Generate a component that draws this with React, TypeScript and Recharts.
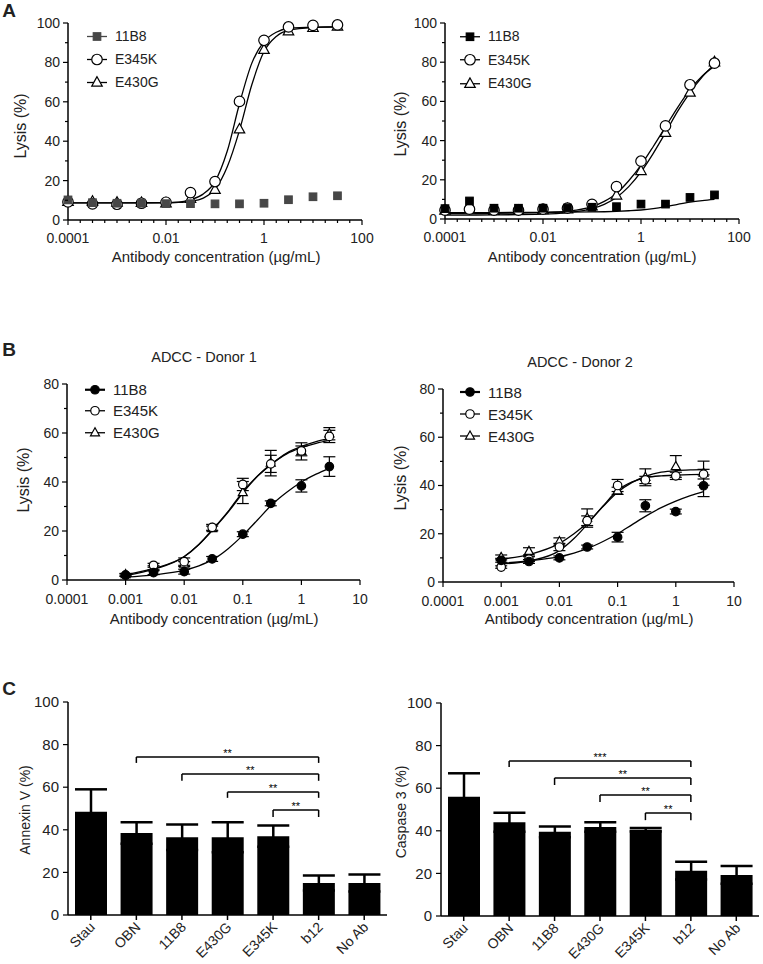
import React from "react";
import {
  ComposedChart,
  Line,
  Scatter,
  XAxis,
  YAxis,
  ErrorBar,
  Legend,
  BarChart,
  Bar,
  ReferenceLine,
} from "recharts";

const FONT = '"Liberation Sans", Arial, Helvetica, sans-serif';
const INK = "#222";

// ---- A: CDC, half-log dilution series (µg/mL)
const concA = [0.0001, 0.000316, 0.001, 0.00316, 0.01, 0.0316, 0.1, 0.316, 1, 3.16, 10, 31.6];
const cdcL_11B8 = [10.2, 8.8, 8.5, 8.5, 8.3, 8.3, 8.2, 8.2, 8.5, 10.3, 11.8, 12.3];
const cdcL_E345K = [9.2, 8.2, 8.0, 8.5, 9.0, 13.9, 19.5, 60.2, 91.2, 98.0, 98.8, 99.0];
const cdcL_E430G = [9.2, 9.3, 8.8, 8.7, 8.5, 10.7, 15.3, 46.0, 86.4, 95.8, 97.5, 98.2];
const cdcR_11B8 = [5.3, 9.2, 5.5, 5.5, 5.5, 5.6, 6.0, 6.3, 7.6, 7.6, 11.0, 12.3];
const cdcR_E345K = [4.5, 5.0, 4.5, 4.5, 5.0, 5.5, 7.5, 16.5, 29.5, 47.5, 68.5, 79.5];
const cdcR_E430G = [4.3, 4.8, 4.2, 4.2, 4.5, 5.0, 6.5, 12.0, 24.5, 44.0, 64.5, 80.0];

// fitted curves
const fitXL = [0.0001, 0.001, 0.01, 0.0178, 0.0316, 0.0562, 0.1, 0.178, 0.316, 0.562, 1, 1.78, 3.16, 10, 31.6];
const fitL_E345K = [8.7, 8.7, 8.8, 9.0, 10.3, 13.0, 19.5, 35.0, 59.0, 79.5, 90.5, 95.3, 97.2, 97.9, 98.0];
const fitL_E430G = [8.7, 8.7, 8.7, 8.9, 9.5, 11.0, 15.5, 27.0, 45.5, 68.5, 85.5, 93.2, 96.3, 97.7, 98.0];
const fitXR = [0.0001, 0.001, 0.01, 0.0316, 0.1, 0.178, 0.316, 0.562, 1, 1.78, 3.16, 5.62, 10, 17.8, 31.6];
const fitR_11B8 = [3.3, 3.3, 3.4, 3.5, 3.6, 3.7, 3.9, 4.2, 4.6, 5.3, 6.3, 7.5, 8.6, 9.4, 10.0];
const fitR_E345K = [2.8, 2.9, 3.3, 4.0, 6.3, 9.0, 13.0, 19.5, 27.5, 37.0, 47.0, 57.0, 66.0, 73.0, 78.0];
const fitR_E430G = [2.0, 2.1, 2.5, 3.3, 5.3, 7.5, 11.0, 16.5, 24.0, 33.5, 44.0, 55.0, 64.5, 72.5, 79.0];

// ---- B: ADCC
const concB = [0.001, 0.003, 0.01, 0.03, 0.1, 0.3, 1, 3];
const d1_11B8 = [2.0, 3.0, 3.4, 8.6, 18.7, 31.3, 38.4, 46.3];
const d1_11B8_sd = [0.5, 0.8, 1.0, 1.0, 1.0, 1.0, 2.5, 4.0];
const d1_E345K = [2.0, 6.0, 7.5, 21.5, 39.0, 47.4, 52.7, 58.6];
const d1_E345K_sd = [0.5, 0.8, 1.5, 1.2, 2.5, 3.5, 2.0, 2.5];
const d1_E430G = [2.2, 5.0, 6.5, 21.0, 35.7, 47.7, 52.5, 59.7];
const d1_E430G_sd = [0.5, 0.8, 1.0, 1.0, 4.5, 5.2, 3.5, 2.5];
const d2_11B8 = [9.0, 8.5, 10.0, 14.5, 18.6, 31.6, 29.2, 39.9];
const d2_11B8_sd = [0.8, 0.8, 0.8, 0.8, 2.0, 2.5, 1.0, 4.5];
const d2_E345K = [6.2, 9.5, 14.5, 25.4, 40.0, 42.3, 44.0, 44.7];
const d2_E345K_sd = [0.5, 1.0, 1.5, 2.0, 2.5, 1.5, 1.5, 2.0];
const d2_E430G = [10.2, 12.7, 16.8, 26.5, 37.8, 43.4, 47.9, 45.1];
const d2_E430G_sd = [1.0, 1.5, 1.5, 3.8, 1.5, 3.5, 4.5, 5.0];

const fitXB = [0.001, 0.00316, 0.01, 0.0178, 0.0316, 0.0562, 0.1, 0.178, 0.316, 0.562, 1, 1.78, 3];
const fit1_11B8 = [1.2, 2.1, 4.0, 5.8, 8.5, 12.8, 18.2, 24.5, 30.8, 35.8, 40.0, 43.2, 45.6];
const fit1_E345K = [1.8, 4.5, 9.5, 14.5, 21.0, 28.0, 36.0, 42.5, 47.5, 51.5, 54.0, 55.8, 57.0];
const fit1_E430G = [2.2, 4.8, 9.6, 14.5, 20.8, 27.7, 35.5, 42.3, 47.5, 51.8, 54.5, 56.5, 57.8];
const fit2_11B8 = [7.8, 8.8, 10.5, 12.0, 14.0, 16.8, 20.0, 23.8, 27.5, 30.8, 33.5, 35.8, 37.5];
const fit2_E345K = [7.5, 8.8, 13.0, 18.0, 24.5, 31.5, 38.0, 41.5, 43.3, 44.0, 44.3, 44.5, 44.6];
const fit2_E430G = [9.5, 11.5, 16.0, 20.0, 25.0, 31.3, 37.2, 41.3, 44.0, 45.5, 46.2, 46.5, 46.6];

// ---- C: apoptosis
const catsC = ["Stau", "OBN", "11B8", "E430G", "E345K", "b12", "No Ab"];
const annexin = [48.5, 38.5, 36.5, 36.5, 37.0, 15.0, 15.0];
const annexinSd = [10.5, 5.0, 6.0, 7.0, 5.0, 3.5, 4.0];
const caspase = [56.0, 44.0, 39.5, 41.8, 40.5, 21.3, 19.3];
const caspaseSd = [11.0, 4.5, 2.5, 2.2, 0.8, 4.2, 4.2];

const annexinSig = [
  { from: "OBN", to: "b12", top: 74.2, foot: 71.4, stars: "**" },
  { from: "11B8", to: "b12", top: 66.2, foot: 63.0, stars: "**" },
  { from: "E430G", to: "b12", top: 57.7, foot: 55.0, stars: "**" },
  { from: "E345K", to: "b12", top: 49.3, foot: 46.0, stars: "**" },
];
const caspaseSig = [
  { from: "OBN", to: "b12", top: 72.8, foot: 70.0, stars: "***" },
  { from: "11B8", to: "b12", top: 64.8, foot: 61.5, stars: "**" },
  { from: "E430G", to: "b12", top: 56.8, foot: 53.5, stars: "**" },
  { from: "E345K", to: "b12", top: 48.4, foot: 45.0, stars: "**" },
];

const majorsA = [0.0001, 0.01, 1, 100];
const labelsA = ["0.0001", "0.01", "1", "100"];
const majorsB = [0.0001, 0.001, 0.01, 0.1, 1, 10];
const labelsB = ["0.0001", "0.001", "0.01", "0.1", "1", "10"];
const quarterTicksA = Array.from({ length: 25 }, (_, i) => Math.pow(10, -4 + i / 4));

const pts = (xs, ys, es?) => xs.map((x, i) => ({ x, y: ys[i], e: es ? es[i] : undefined }));

function Marker({ kind, cx, cy, size, fill, stroke }) {
  if (kind === "square")
    return <rect x={cx - size / 2} y={cy - size / 2} width={size} height={size} fill={fill} stroke={stroke} strokeWidth={1.2} />;
  if (kind === "circle")
    return <circle cx={cx} cy={cy} r={size / 2} fill={fill} stroke={stroke} strokeWidth={1.2} />;
  const h = size * 0.9;
  return (
    <polygon
      points={`${cx},${cy - h * 0.62} ${cx - size / 2},${cy + h * 0.38} ${cx + size / 2},${cy + h * 0.38}`}
      fill={fill}
      stroke={stroke}
      strokeWidth={1.2}
    />
  );
}

function LogTick(props) {
  const { x, y, payload, majors, labels, fs, dy } = props;
  const idx = majors.findIndex((m) => Math.abs(Math.log10(m) - Math.log10(payload.value)) < 1e-6);
  const major = idx >= 0;
  return (
    <g>
      <line x1={x} x2={x} y1={y} y2={y + (major ? 5 : 3)} stroke="#000" strokeWidth={1.2} />
      {major && (
        <text x={x} y={y + dy} textAnchor="middle" fontSize={fs} fontFamily={FONT} fill={INK}>
          {labels[idx]}
        </text>
      )}
    </g>
  );
}

function ValueTick(props) {
  const { x, y, payload, step, fs, gap } = props;
  const major = payload.value % step === 0;
  return (
    <g>
      <line x1={x - (major ? 5 : 3)} x2={x} y1={y} y2={y} stroke="#000" strokeWidth={1.2} />
      {major && (
        <text x={x - gap} y={y} dy="0.35em" textAnchor="end" fontSize={fs} fontFamily={FONT} fill={INK}>
          {payload.value}
        </text>
      )}
    </g>
  );
}

function CatTick(props) {
  const { x, y, payload } = props;
  const ax = x + 5;
  const ay = y + 13;
  return (
    <g>
      <line x1={x} x2={x} y1={y} y2={y + 5} stroke="#000" strokeWidth={1.5} />
      <text x={ax} y={ay} textAnchor="end" transform={`rotate(-45, ${ax}, ${ay})`} fontSize={14} fontFamily={FONT} fill={INK}>
        {payload.value}
      </text>
    </g>
  );
}

function SeriesLegend({ items, rowH, fs }) {
  return (
    <div style={{ fontFamily: FONT, fontSize: fs, color: INK, lineHeight: 1 }}>
      {items.map((s) => (
        <div key={s.name} style={{ display: "flex", alignItems: "center", height: rowH }}>
          <svg width={28} height={rowH} style={{ display: "block" }}>
            <line x1={0} x2={20} y1={rowH / 2} y2={rowH / 2} stroke={s.lineColor} strokeWidth={s.lineWidth} />
            <Marker kind={s.kind} cx={10} cy={rowH / 2} size={s.size} fill={s.fill} stroke={s.stroke} />
          </svg>
          <span>{s.name}</span>
        </div>
      ))}
    </div>
  );
}

function DosePanel({ pos, size, margin, xH, xTicks, majors, labels, yTicks, yMax, series, legend, fs, xdy }) {
  const drawOrder = [...series].reverse();
  return (
    <div style={{ position: "absolute", left: pos[0], top: pos[1] }}>
      <ComposedChart width={size[0]} height={size[1]} margin={margin}>
        <XAxis
          dataKey="x"
          type="number"
          scale="log"
          domain={[majors[0], majors[majors.length - 1]]}
          ticks={xTicks}
          interval={0}
          height={xH}
          tickSize={0}
          tickMargin={0}
          tickLine={false}
          axisLine={{ stroke: "#000", strokeWidth: 1.5 }}
          tick={(p) => <LogTick {...p} majors={majors} labels={labels} fs={fs} dy={xdy} />}
        />
        <YAxis
          dataKey="y"
          type="number"
          domain={[0, yMax]}
          ticks={yTicks}
          interval={0}
          width={50}
          tickSize={0}
          tickMargin={0}
          tickLine={false}
          axisLine={{ stroke: "#000", strokeWidth: 1.5 }}
          tick={(p) => <ValueTick {...p} step={20} fs={fs} gap={8} />}
        />
        {series
          .filter((s) => s.fit)
          .map((s) => (
            <Line
              key={s.name + "-fit"}
              data={s.fit}
              dataKey="y"
              type="monotone"
              dot={false}
              activeDot={false}
              stroke="#000"
              strokeWidth={1.3}
              isAnimationActive={false}
              legendType="none"
            />
          ))}
        {drawOrder.map((s) => (
          <Scatter
            key={s.name}
            name={s.name}
            data={s.pts}
            dataKey="y"
            isAnimationActive={false}
            shape={(p) => <Marker kind={s.kind} cx={p.cx} cy={p.cy} size={s.size} fill={s.fill} stroke={s.stroke} />}
          >
            {s.pts[0].e !== undefined && <ErrorBar dataKey="e" direction="y" width={6} stroke="#000" strokeWidth={1.2} />}
          </Scatter>
        ))}
        <Legend
          layout="vertical"
          align="center"
          verticalAlign="middle"
          wrapperStyle={{ left: legend.left, top: legend.top, width: "auto" }}
          content={() => <SeriesLegend items={series} rowH={legend.rowH} fs={legend.fs} />}
        />
      </ComposedChart>
    </div>
  );
}

function BarPanel({ pos, size, margin, xH, vals, sds, sig }) {
  const rows = catsC.map((c, i) => ({ cat: c, v: vals[i], e: sds[i] }));
  return (
    <div style={{ position: "absolute", left: pos[0], top: pos[1] }}>
      <BarChart width={size[0]} height={size[1]} data={rows} margin={margin} barSize={32}>
        <XAxis
          dataKey="cat"
          type="category"
          interval={0}
          height={xH}
          tickSize={0}
          tickMargin={0}
          tickLine={false}
          axisLine={{ stroke: "#000", strokeWidth: 1.5 }}
          tick={CatTick}
        />
        <YAxis
          type="number"
          domain={[0, 100]}
          ticks={[0, 20, 40, 60, 80, 100]}
          interval={0}
          width={50}
          tickSize={0}
          tickMargin={0}
          tickLine={false}
          axisLine={{ stroke: "#000", strokeWidth: 1.5 }}
          tick={(p) => <ValueTick {...p} step={20} fs={15} gap={9} />}
        />
        <Bar dataKey="v" fill="#000" isAnimationActive={false}>
          <ErrorBar dataKey="e" direction="y" width={16} stroke="#000" strokeWidth={2.5} />
        </Bar>
        {sig.flatMap((b, i) => [
          <ReferenceLine
            key={`h${i}`}
            segment={[
              { x: b.from, y: b.top },
              { x: b.to, y: b.top },
            ]}
            stroke="#000"
            strokeWidth={1.5}
            ifOverflow="visible"
            label={{ value: b.stars, position: "top", offset: 0, fontSize: 11, fill: "#000", fontFamily: FONT }}
          />,
          <ReferenceLine
            key={`l${i}`}
            segment={[
              { x: b.from, y: b.top },
              { x: b.from, y: b.foot },
            ]}
            stroke="#000"
            strokeWidth={1.5}
            ifOverflow="visible"
          />,
          <ReferenceLine
            key={`r${i}`}
            segment={[
              { x: b.to, y: b.top },
              { x: b.to, y: b.foot },
            ]}
            stroke="#000"
            strokeWidth={1.5}
            ifOverflow="visible"
          />,
        ])}
      </BarChart>
    </div>
  );
}

function Txt({ x, y, size, bold = false, rotate = 0, children }) {
  return (
    <div
      style={{
        position: "absolute",
        left: x,
        top: y,
        transform: `translate(-50%, -50%)${rotate ? ` rotate(${rotate}deg)` : ""}`,
        fontSize: size,
        fontWeight: bold ? 700 : 400,
        lineHeight: 1,
        whiteSpace: "nowrap",
      }}
    >
      {children}
    </div>
  );
}

const openCircle = { kind: "circle", fill: "#fff", stroke: "#000", lineColor: "#000", lineWidth: 1.3 };
const openTri = { kind: "triangle", fill: "#fff", stroke: "#000", lineColor: "#000", lineWidth: 1.3 };

export default function App() {
  const seriesAL = [
    { name: "11B8", kind: "square", size: 7.5, fill: "#474747", stroke: "#474747", lineColor: "#474747", lineWidth: 1.3, pts: pts(concA, cdcL_11B8) },
    { name: "E345K", ...openCircle, size: 10.5, pts: pts(concA, cdcL_E345K), fit: pts(fitXL, fitL_E345K) },
    { name: "E430G", ...openTri, size: 10.5, pts: pts(concA, cdcL_E430G), fit: pts(fitXL, fitL_E430G) },
  ];
  const seriesAR = [
    { name: "11B8", kind: "square", size: 7.5, fill: "#000", stroke: "#000", lineColor: "#000", lineWidth: 1.3, pts: pts(concA, cdcR_11B8), fit: pts(fitXR, fitR_11B8) },
    { name: "E345K", ...openCircle, size: 10.5, pts: pts(concA, cdcR_E345K), fit: pts(fitXR, fitR_E345K) },
    { name: "E430G", ...openTri, size: 10.5, pts: pts(concA, cdcR_E430G), fit: pts(fitXR, fitR_E430G) },
  ];
  const seriesBL = [
    { name: "11B8", kind: "circle", size: 8.5, fill: "#000", stroke: "#000", lineColor: "#000", lineWidth: 2.2, pts: pts(concB, d1_11B8, d1_11B8_sd), fit: pts(fitXB, fit1_11B8) },
    { name: "E345K", ...openCircle, size: 8.5, pts: pts(concB, d1_E345K, d1_E345K_sd), fit: pts(fitXB, fit1_E345K) },
    { name: "E430G", ...openTri, size: 9, pts: pts(concB, d1_E430G, d1_E430G_sd), fit: pts(fitXB, fit1_E430G) },
  ];
  const seriesBR = [
    { name: "11B8", kind: "circle", size: 8.5, fill: "#000", stroke: "#000", lineColor: "#000", lineWidth: 2.2, pts: pts(concB, d2_11B8, d2_11B8_sd), fit: pts(fitXB, fit2_11B8) },
    { name: "E345K", ...openCircle, size: 8.5, pts: pts(concB, d2_E345K, d2_E345K_sd), fit: pts(fitXB, fit2_E345K) },
    { name: "E430G", ...openTri, size: 9, pts: pts(concB, d2_E430G, d2_E430G_sd), fit: pts(fitXB, fit2_E430G) },
  ];
  const yA = [0, 10, 20, 30, 40, 50, 60, 70, 80, 90, 100];
  const yB = [0, 10, 20, 30, 40, 50, 60, 70, 80];

  return (
    <div
      style={{
        position: "absolute",
        left: 0,
        top: 0,
        width: 763,
        height: 964,
        overflow: "hidden",
        background: "#fff",
        fontFamily: FONT,
        color: INK,
      }}
    >
      <DosePanel
        pos={[0, 0]}
        size={[380, 265]}
        margin={{ top: 23, right: 18, bottom: 0, left: 18 }}
        xH={45}
        xTicks={quarterTicksA}
        majors={majorsA}
        labels={labelsA}
        yTicks={yA}
        yMax={100}
        series={seriesAL}
        legend={{ left: 87, top: 24.5, rowH: 23, fs: 14 }}
        fs={14}
        xdy={23}
      />
      <DosePanel
        pos={[380, 0]}
        size={[383, 265]}
        margin={{ top: 23, right: 24, bottom: 0, left: 15 }}
        xH={46}
        xTicks={quarterTicksA}
        majors={majorsA}
        labels={labelsA}
        yTicks={yA}
        yMax={100}
        series={seriesAR}
        legend={{ left: 80, top: 24.5, rowH: 23.5, fs: 14 }}
        fs={14}
        xdy={23}
      />
      <DosePanel
        pos={[0, 370]}
        size={[380, 256]}
        margin={{ top: 14, right: 20, bottom: 0, left: 17 }}
        xH={46}
        xTicks={majorsB}
        majors={majorsB}
        labels={labelsB}
        yTicks={yB}
        yMax={80}
        series={seriesBL}
        legend={{ left: 85, top: 8.5, rowH: 21.5, fs: 15 }}
        fs={14}
        xdy={24}
      />
      <DosePanel
        pos={[380, 370]}
        size={[383, 258]}
        margin={{ top: 19, right: 29, bottom: 0, left: 13 }}
        xH={46}
        xTicks={majorsB}
        majors={majorsB}
        labels={labelsB}
        yTicks={yB}
        yMax={80}
        series={seriesBR}
        legend={{ left: 80, top: 11, rowH: 22, fs: 15 }}
        fs={14}
        xdy={24}
      />
      <BarPanel
        pos={[0, 690]}
        size={[387, 274]}
        margin={{ top: 12, right: 0, bottom: 0, left: 18 }}
        xH={49}
        vals={annexin}
        sds={annexinSd}
        sig={annexinSig}
      />
      <BarPanel
        pos={[380, 690]}
        size={[383, 274]}
        margin={{ top: 13, right: 4, bottom: 0, left: 11 }}
        xH={48}
        vals={caspase}
        sds={caspaseSd}
        sig={caspaseSig}
      />

      <Txt x={9} y={10} size={19} bold>A</Txt>
      <Txt x={9} y={348.5} size={19} bold>B</Txt>
      <Txt x={9} y={687.5} size={19} bold>C</Txt>

      <Txt x={21} y={126} size={16} rotate={-90}>Lysis (%)</Txt>
      <Txt x={401} y={124} size={16} rotate={-90}>Lysis (%)</Txt>
      <Txt x={216} y={255.5} size={15}>Antibody concentration (µg/mL)</Txt>
      <Txt x={592} y={255.5} size={15}>Antibody concentration (µg/mL)</Txt>

      <Txt x={204} y={357} size={14.5}>ADCC - Donor 1</Txt>
      <Txt x={580} y={361.5} size={14.5}>ADCC - Donor 2</Txt>
      <Txt x={24} y={480} size={16} rotate={-90}>Lysis (%)</Txt>
      <Txt x={401} y={478} size={16} rotate={-90}>Lysis (%)</Txt>
      <Txt x={214} y={618} size={15}>Antibody concentration (µg/mL)</Txt>
      <Txt x={589} y={618} size={15}>Antibody concentration (µg/mL)</Txt>

      <Txt x={25} y={810} size={14} rotate={-90}>Annexin V (%)</Txt>
      <Txt x={401} y={812} size={14} rotate={-90}>Caspase 3 (%)</Txt>
    </div>
  );
}
